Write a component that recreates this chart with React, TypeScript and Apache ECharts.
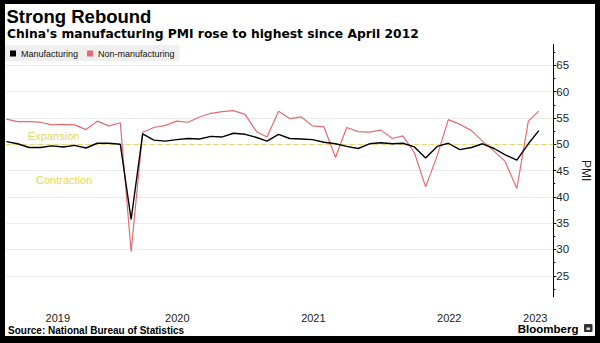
import React, { useEffect, useRef } from 'react';
import * as echarts from 'echarts';

// Monthly observations (plotted at month end)
const months = [
  '2019-03', '2019-04', '2019-05', '2019-06', '2019-07', '2019-08', '2019-09', '2019-10', '2019-11', '2019-12',
  '2020-01', '2020-02', '2020-03', '2020-04', '2020-05', '2020-06', '2020-07', '2020-08', '2020-09', '2020-10', '2020-11', '2020-12',
  '2021-01', '2021-02', '2021-03', '2021-04', '2021-05', '2021-06', '2021-07', '2021-08', '2021-09', '2021-10', '2021-11', '2021-12',
  '2022-01', '2022-02', '2022-03', '2022-04', '2022-05', '2022-06', '2022-07', '2022-08', '2022-09', '2022-10', '2022-11', '2022-12',
  '2023-01', '2023-02',
];

const manufacturing = [
  50.5, 50.1, 49.4, 49.4, 49.7, 49.5, 49.8, 49.3, 50.2, 50.2,
  50.0, 35.7, 52.0, 50.8, 50.6, 50.9, 51.1, 51.0, 51.5, 51.4, 52.1, 51.9,
  51.3, 50.6, 51.9, 51.1, 51.0, 50.9, 50.4, 50.1, 49.6, 49.2, 50.1, 50.3,
  50.1, 50.2, 49.5, 47.4, 49.6, 50.2, 49.0, 49.4, 50.1, 49.2, 48.0, 47.0,
  50.1, 52.6,
];

const nonManufacturing = [
  54.8, 54.3, 54.3, 54.2, 53.7, 53.8, 53.7, 52.8, 54.4, 53.5,
  54.1, 29.6, 52.3, 53.2, 53.6, 54.4, 54.2, 55.2, 55.9, 56.2, 56.4, 55.7,
  52.4, 51.4, 56.3, 54.9, 55.2, 53.5, 53.3, 47.5, 53.2, 52.4, 52.3, 52.7,
  51.1, 51.6, 48.4, 41.9, 47.8, 54.7, 53.8, 52.6, 50.6, 48.7, 46.7, 41.6,
  54.4, 56.3,
];

const yearLabels = [2019, 2020, 2021, 2022, 2023];
const yTickLabels = [25, 30, 35, 40, 45, 50, 55, 60, 65];
const yMinorTicks = [22.5, 27.5, 32.5, 37.5, 42.5, 47.5, 52.5, 57.5, 62.5, 67.5];
const yMin = 21;
const yMax = 69;
const thresholdValue = 50;
const axisStart = '2019-03-31';
const axisEnd = '2023-04-08';

const FONT = '"Liberation Sans", Arial, sans-serif';
const WIDE = '"DejaVu Sans", Verdana, sans-serif';
const RED = '#e46c70';
const YELLOW = '#e8d84e';

function monthEnd(ym: string): number {
  const [y, m] = ym.split('-').map(Number);
  return new Date(y, m, 0).getTime();
}
function parseDay(s: string): number {
  const [y, m, d] = s.split('-').map(Number);
  return new Date(y, m - 1, d).getTime();
}

export default function App() {
  const ref = useRef<HTMLDivElement>(null);

  useEffect(() => {
    if (!ref.current) return;
    const chart = echarts.init(ref.current, undefined, { renderer: 'svg' });
    const tMin = parseDay(axisStart);
    const tMax = parseDay(axisEnd);
    const yearCenters = yearLabels.map((yr) => {
      const s = Math.max(tMin, new Date(yr, 0, 1).getTime());
      const e = Math.min(tMax, new Date(yr + 1, 0, 1).getTime());
      return (s + e) / 2;
    });
    const mfgData = months.map((m, i) => [monthEnd(m), manufacturing[i]]);
    const nonData = months.map((m, i) => [monthEnd(m), nonManufacturing[i]]);

    chart.setOption({
      animation: false,
      grid: { left: 6.4, right: 38.3, top: 44.4, bottom: 46.2 },
      legend: {
        left: 5,
        top: 45,
        padding: [4, 5, 3, 5],
        itemGap: 9,
        itemWidth: 6,
        itemHeight: 6,
        icon: 'rect',
        backgroundColor: '#efefef',
        textStyle: { fontSize: 9, fontFamily: FONT, color: '#111' },
        data: ['Manufacturing', 'Non-manufacturing'],
      },
      xAxis: {
        type: 'value',
        min: tMin,
        max: tMax,
        axisLine: { show: false },
        axisTick: { show: false },
        splitLine: { show: false },
        axisLabel: {
          customValues: yearCenters,
          margin: 15.5,
          fontSize: 11,
          fontFamily: FONT,
          color: '#222',
          formatter: (v: number) => String(new Date(v).getFullYear()),
        },
      },
      yAxis: [
        {
          type: 'value',
          position: 'right',
          min: yMin,
          max: yMax,
          axisLine: { show: true, lineStyle: { color: '#000', width: 1 } },
          axisTick: { show: true, inside: false, length: 3, customValues: yTickLabels, lineStyle: { color: '#000' } },
          axisLabel: {
            customValues: yTickLabels,
            margin: 3,
            fontSize: 11.5,
            fontFamily: FONT,
            color: '#222',
          },
          splitLine: { show: true, lineStyle: { color: '#d4d4d4', type: 'dotted', width: 1 } },
          name: 'PMI',
          nameLocation: 'middle',
          nameRotate: -90,
          nameGap: 21,
          nameTextStyle: { fontSize: 12, fontFamily: FONT, color: '#222' },
        },
        {
          type: 'value',
          position: 'right',
          min: yMin,
          max: yMax,
          axisLine: { show: false },
          axisTick: { show: true, inside: false, length: 2, customValues: yMinorTicks, lineStyle: { color: '#000' } },
          axisLabel: { show: false },
          splitLine: { show: false },
        },
      ],
      series: [
        {
          name: 'Non-manufacturing',
          type: 'line',
          data: nonData,
          yAxisIndex: 0,
          showSymbol: false,
          symbol: 'none',
          color: RED,
          lineStyle: { color: RED, width: 1.2 },
          z: 3,
        },
        {
          name: 'Manufacturing',
          type: 'line',
          data: mfgData,
          yAxisIndex: 0,
          showSymbol: false,
          symbol: 'none',
          color: '#000',
          lineStyle: { color: '#000', width: 1.4 },
          z: 4,
          markLine: {
            silent: true,
            symbol: 'none',
            label: { show: false },
            lineStyle: { color: YELLOW, type: [4, 4], width: 1 },
            data: [{ yAxis: thresholdValue }],
            z: 2,
          },
        },
      ],
      graphic: [
        {
          type: 'text', x: 6.5, y: 16.5,
          style: { text: 'Strong Rebound', fill: '#000', font: `bold 18.5px ${FONT}`, textVerticalAlign: 'middle' },
        },
        {
          type: 'text', x: 7, y: 34,
          style: { text: "China's manufacturing PMI rose to highest since April 2012", fill: '#000', font: `bold 12.3px ${WIDE}`, textVerticalAlign: 'middle' },
        },
        {
          type: 'text', x: 28, y: 136,
          style: { text: 'Expansion', fill: YELLOW, font: `11px ${FONT}`, textVerticalAlign: 'middle' },
        },
        {
          type: 'text', x: 36, y: 180,
          style: { text: 'Contraction', fill: YELLOW, font: `11px ${FONT}`, textVerticalAlign: 'middle' },
        },
        {
          type: 'text', x: 8, y: 330,
          style: { text: 'Source: National Bureau of Statistics', fill: '#000', font: `bold 10px ${FONT}`, textVerticalAlign: 'middle' },
        },
        {
          type: 'text', x: 578.5, y: 328.5,
          style: { text: 'Bloomberg', fill: '#000', font: `bold 11.5px ${FONT}`, textAlign: 'right', textVerticalAlign: 'middle' },
        },
        {
          type: 'rect', x: 584, y: 324, shape: { width: 8.5, height: 8, r: 1 },
          style: { fill: '#333' },
        },
        {
          type: 'rect', x: 586.5, y: 327.5, shape: { width: 3.5, height: 2.5 },
          style: { fill: '#ddd' },
        },
      ],
    });
    return () => chart.dispose();
  }, []);

  return (
    <div style={{ position: 'absolute', left: 0, top: 0, width: 600, height: 343, background: '#000' }}>
      <div style={{ position: 'absolute', left: 5, top: 4, width: 590, height: 332, background: '#fff' }} />
      <div ref={ref} style={{ position: 'absolute', left: 0, top: 0, width: 600, height: 343 }} />
    </div>
  );
}
